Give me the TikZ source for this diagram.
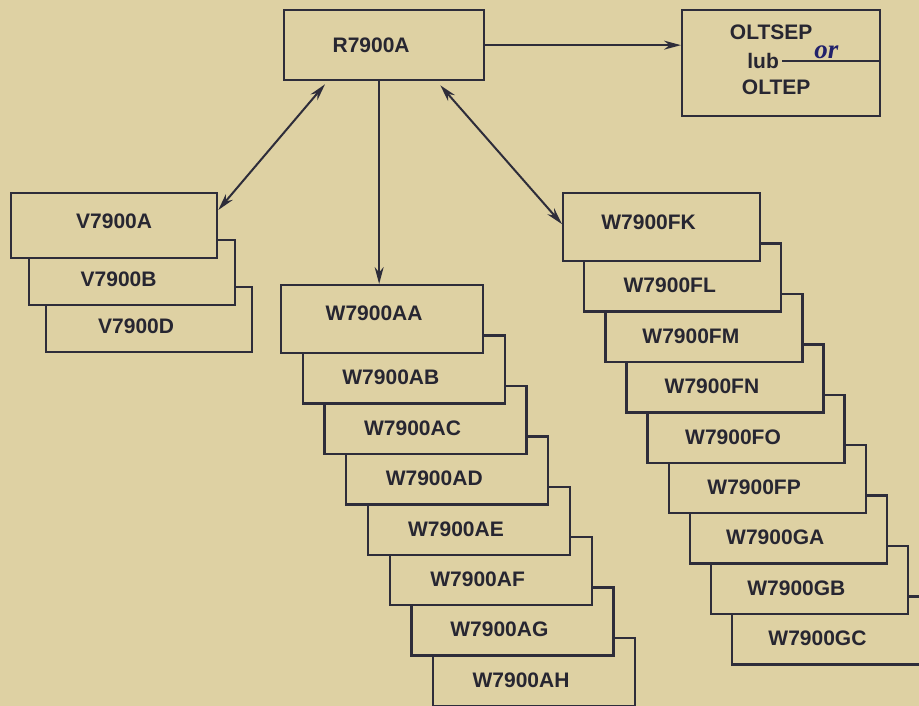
\documentclass[tikz,border=0pt]{standalone}
\usepackage{fontspec}
\setmainfont{Liberation Sans}
\newfontfamily\handfont{Liberation Serif}
\usepackage{tikz}
\usetikzlibrary{positioning,arrows.meta,calc}
\definecolor{paper}{RGB}{222,209,163}
\definecolor{ink}{RGB}{46,45,58}

\begin{document}
\begin{tikzpicture}[
  x=1pt, y=-1pt,
  box/.style={draw=ink, fill=paper, line width=2.3pt, anchor=north west,
              inner sep=0pt},
  lab/.style={font=\fontsize{21}{23}\selectfont\bfseries, text=ink!85!black},
  hand/.style={font=\fontsize{27}{27}\selectfont\handfont\bfseries\itshape, text=ink!75!blue},
  arr/.style={-{Stealth[length=17pt, width=9pt]}, line width=2pt, draw=ink},
  dbl/.style={{Stealth[length=17pt, width=9pt]}-{Stealth[length=17pt, width=9pt]},
              line width=2pt, draw=ink}
]
  \fill[paper] (0,0) rectangle (919,706);
  \clip (0,0) rectangle (919,706);

  % top row
  \node[box, minimum width=200pt, minimum height=70pt] (r) at (283,9) {};
  \node[lab] (rt) at ([xshift=-13pt]r.center) {R7900A};

  \node[box, minimum width=198pt, minimum height=106pt] (olt) at (681,9) {};
  \node[lab] (olt1) at ([xshift=-10pt, yshift=-23pt]olt.north) {OLTSEP};
  \node[lab] (lub) at ([xshift=-18pt, yshift=-52pt]olt.north) {lub};
  \node[lab] (olt2) at ([xshift=-5pt, yshift=-78pt]olt.north) {OLTEP};
  \draw[ink, line width=1.8pt] (lub.east) -- (lub.east -| olt.east);
  \node[hand] (orn) at ([xshift=44pt, yshift=9pt]lub.east) {or};

  % stacks are drawn back to front, so the first box covers the next one
  \foreach \i/\name in {3/V7900D, 2/V7900B, 1/V7900A}
    \node[box, minimum width=206pt, minimum height=65pt] (v\i)
      at ({10+17.5*(\i-1)}, {192+47*(\i-1)}) {};
  \foreach \i/\name in {8/W7900AH, 7/W7900AG, 6/W7900AF, 5/W7900AE,
                        4/W7900AD, 3/W7900AC, 2/W7900AB, 1/W7900AA}
    \node[box, minimum width=202pt, minimum height=68pt] (wa\i)
      at ({280+21.7*(\i-1)}, {284+50.4*(\i-1)}) {};
  \foreach \i/\name in {9/W7900GC, 8/W7900GB, 7/W7900GA, 6/W7900FP, 5/W7900FO,
                        4/W7900FN, 3/W7900FM, 2/W7900FL, 1/W7900FK}
    \node[box, minimum width=197pt, minimum height=68pt] (wf\i)
      at ({562+21.1*(\i-1)}, {192+50.4*(\i-1)}) {};

  % labels sit in the visible strip of each box
  \node[lab] (vt1) at ([yshift=-29pt]v1.north) {V7900A};
  \foreach \i/\name in {2/V7900B, 3/V7900D}
    \node[lab] (vt\i) at ([xshift=-13pt, yshift=27pt]v\i.south) {\name};
  \node[lab] (wat1) at ([xshift=-8pt, yshift=-29pt]wa1.north) {W7900AA};
  \foreach \i/\name in {2/W7900AB, 3/W7900AC, 4/W7900AD, 5/W7900AE,
                        6/W7900AF, 7/W7900AG, 8/W7900AH}
    \node[lab] (wat\i) at ([xshift=-13pt, yshift=27pt]wa\i.south) {\name};
  \node[lab] (wft1) at ([xshift=-13pt, yshift=-30pt]wf1.north) {W7900FK};
  \foreach \i/\name in {2/W7900FL, 3/W7900FM, 4/W7900FN, 5/W7900FO,
                        6/W7900FP, 7/W7900GA, 8/W7900GB, 9/W7900GC}
    \node[lab] (wft\i) at ([xshift=-13pt, yshift=27pt]wf\i.south) {\name};

  % connectors
  \draw[arr] (r.east) -- (r.east -| olt.west);
  \draw[dbl] ([xshift=42pt, yshift=-3pt]r.south west) -- ([yshift=-18pt]v1.north east);
  \draw[arr] ([xshift=-5pt]r.south) -- ([xshift=-5pt]r.south |- wa1.north);
  \draw[dbl] ([xshift=-45pt, yshift=-4pt]r.south east) -- ([yshift=3pt]wf1.west);
\end{tikzpicture}
\end{document}
